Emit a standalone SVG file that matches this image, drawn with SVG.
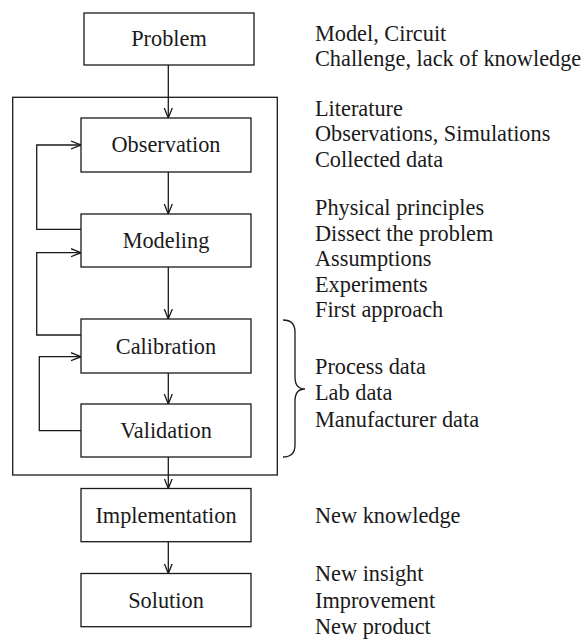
<svg xmlns="http://www.w3.org/2000/svg" width="584" height="639" viewBox="0 0 584 639">
<style>
.box{fill:#fff;stroke:#1a1a1a;stroke-width:1.3}
.lbl{font-family:"Liberation Serif","Times New Roman",serif;font-size:22.3px;fill:#1a1a1a;text-anchor:middle}
.note{font-family:"Liberation Serif","Times New Roman",serif;font-size:22.3px;fill:#1a1a1a}
.con{fill:none;stroke:#1a1a1a;stroke-width:1.3}
</style>
<defs>
<marker id="ah" viewBox="0 0 10 10" refX="10" refY="5" markerWidth="10" markerHeight="10" markerUnits="userSpaceOnUse" orient="auto">
<path d="M0,1 L10,5 L0,9" fill="none" stroke="#1a1a1a" stroke-width="1.3"/>
</marker>
</defs>
<rect id="frame" x="12.7" y="97.3" width="264.6" height="377.7" fill="none" stroke="#1a1a1a" stroke-width="1.3"/>
<g id="connectors">
<line class="con" x1="168.3" y1="65" x2="168.3" y2="118" marker-end="url(#ah)"/>
<line class="con" x1="168.3" y1="172" x2="168.3" y2="214" marker-end="url(#ah)"/>
<line class="con" x1="168.3" y1="267" x2="168.3" y2="319" marker-end="url(#ah)"/>
<line class="con" x1="168.3" y1="373" x2="168.3" y2="404" marker-end="url(#ah)"/>
<line class="con" x1="168.3" y1="457" x2="168.3" y2="488.5" marker-end="url(#ah)"/>
<line class="con" x1="168.3" y1="541.7" x2="168.3" y2="573.5" marker-end="url(#ah)"/>
<polyline class="con" points="81,229.3 36.7,229.3 36.7,145 81,145" marker-end="url(#ah)"/>
<polyline class="con" points="81,335 36.7,335 36.7,252.7 81,252.7" marker-end="url(#ah)"/>
<polyline class="con" points="81,430.7 39.3,430.7 39.3,356.7 81,356.7" marker-end="url(#ah)"/>
</g>
<g id="problem"><rect class="box" x="84" y="13" width="170" height="52"/><text class="lbl" x="169" y="46">Problem</text></g>
<g id="observation"><rect class="box" x="81" y="118" width="170" height="54"/><text class="lbl" x="166" y="152">Observation</text></g>
<g id="modeling"><rect class="box" x="81" y="214" width="170" height="53"/><text class="lbl" x="166" y="248">Modeling</text></g>
<g id="calibration"><rect class="box" x="81" y="319" width="170" height="54"/><text class="lbl" x="166" y="354">Calibration</text></g>
<g id="validation"><rect class="box" x="81" y="404" width="170" height="53"/><text class="lbl" x="166" y="438">Validation</text></g>
<g id="implementation"><rect class="box" x="81" y="488.5" width="170" height="53.2"/><text class="lbl" x="166" y="523">Implementation</text></g>
<g id="solution"><rect class="box" x="81" y="573.5" width="170" height="53.2"/><text class="lbl" x="166" y="608">Solution</text></g>
<path id="brace" class="con" d="M283,320 Q295,320 295,332 L295,377 Q295,389 305,389 Q295,389 295,401 L295,445 Q295,457 283,457"/>
<g id="notes">
<text class="note" x="315" y="40.7">Model, Circuit</text>
<text class="note" x="315" y="66.2">Challenge, lack of knowledge</text>
<text class="note" x="315" y="115.5">Literature</text>
<text class="note" x="315" y="141">Observations, Simulations</text>
<text class="note" x="315" y="166.5">Collected data</text>
<text class="note" x="315" y="215">Physical principles</text>
<text class="note" x="315" y="240.5">Dissect the problem</text>
<text class="note" x="315" y="266">Assumptions</text>
<text class="note" x="315" y="291.5">Experiments</text>
<text class="note" x="315" y="317">First approach</text>
<text class="note" x="315" y="373.5">Process data</text>
<text class="note" x="315" y="400">Lab data</text>
<text class="note" x="315" y="426.5">Manufacturer data</text>
<text class="note" x="315" y="523">New knowledge</text>
<text class="note" x="315" y="580.5">New insight</text>
<text class="note" x="315" y="607.5">Improvement</text>
<text class="note" x="315" y="634">New product</text>
</g>
</svg>
